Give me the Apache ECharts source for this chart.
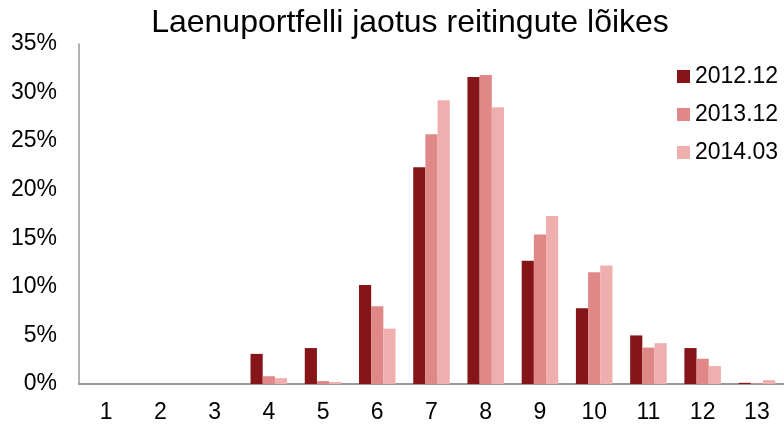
<!DOCTYPE html>
<html>
<head>
<meta charset="utf-8">
<script src="https://cdn.jsdelivr.net/npm/echarts@6/dist/echarts.min.js"></script>
<style>html,body{margin:0;padding:0;background:#fff}#c{width:784px;height:425px}</style>
</head>
<body>
<div id="c"></div>
<script>
const title = 'Laenuportfelli jaotus reitingute lõikes';
const categories = ['1','2','3','4','5','6','7','8','9','10','11','12','13'];
const seriesNames = ['2012.12','2013.12','2014.03'];
const s2012_12 = [0, 0, 0, 3.1, 3.7, 10.2, 22.3, 31.6, 12.7, 7.8, 5.0, 3.7, 0.12];
const s2013_12 = [0, 0, 0, 0.8, 0.3, 8.0, 25.7, 31.8, 15.4, 11.5, 3.75, 2.6, 0.08];
const s2014_03 = [0, 0, 0, 0.6, 0.2, 5.7, 29.2, 28.5, 17.3, 12.2, 4.2, 1.85, 0.4];
const yTicks = {min: 0, max: 35, interval: 5};
const colors = ['#861519', '#E08787', '#F0AFAF'];

const chart = echarts.init(document.getElementById('c'));
const font = 'Liberation Sans, Arial, sans-serif';
const data = [s2012_12, s2013_12, s2014_03];
chart.setOption({
  animation: false,
  title: {
    text: title, left: 405, top: 2, textAlign: 'center',
    textStyle: {fontFamily: font, fontSize: 32, fontWeight: 'normal', color: '#000'}
  },
  legend: {
    orient: 'vertical', left: 672, top: 60, itemWidth: 13, itemHeight: 13, itemGap: 15,
    icon: 'rect',
    textStyle: {fontFamily: font, fontSize: 23, color: '#000', lineHeight: 23},
    data: seriesNames
  },
  grid: {left: 79, top: 44, bottom: 41, right: -8},
  xAxis: {
    type: 'category', data: categories,
    axisLine: {lineStyle: {color: '#999', width: 2}},
    axisTick: {show: false},
    axisLabel: {fontFamily: font, fontSize: 23, color: '#000', margin: 17}
  },
  yAxis: {
    type: 'value', min: yTicks.min, max: yTicks.max, interval: yTicks.interval,
    axisLine: {show: true, lineStyle: {color: '#999', width: 1.5}},
    axisTick: {show: false},
    splitLine: {show: false},
    axisLabel: {fontFamily: font, fontSize: 23, color: '#000', margin: 22, formatter: '{value}%'}
  },
  series: seriesNames.map((n, i) => ({
    name: n, type: 'bar', data: data[i], barGap: 0, barCategoryGap: '32.6%',
    itemStyle: {color: colors[i]}
  }))
});
</script>
</body>
</html>
